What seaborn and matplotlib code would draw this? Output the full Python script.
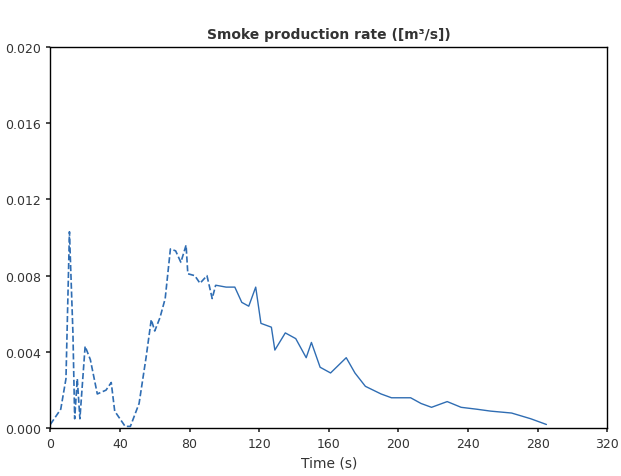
import matplotlib
matplotlib.use("Agg")
import matplotlib.pyplot as plt
import seaborn as sns
import pandas as pd

sns.set_theme(style="white")
plt.rcParams['font.family'] = ['DejaVu Sans']

t_dash = [0, 6, 9, 11, 13, 14, 15.5, 17, 20, 23, 27, 32, 35, 37, 43, 46, 51, 55, 58, 60, 63, 66, 69, 72, 75, 78, 79, 83, 86, 90, 93, 95]
v_dash = [0.0002, 0.0010, 0.0026, 0.0103, 0.0050, 0.0005, 0.0026, 0.0005, 0.0043, 0.0036, 0.0018, 0.0020, 0.0024, 0.0009, 0.0001, 0.0001, 0.0013, 0.0037, 0.0057, 0.0051, 0.0058, 0.0068, 0.0094, 0.0093, 0.0087, 0.0096, 0.0081, 0.0080, 0.0076, 0.0080, 0.0068, 0.0075]
t_solid = [95, 101, 106, 110, 114, 118, 121, 127, 129, 135, 141, 147, 150, 155, 161, 170, 175, 181, 190, 196, 207, 213, 219, 228, 236, 245, 253, 265, 276, 285]
v_solid = [0.0075, 0.0074, 0.0074, 0.0066, 0.0064, 0.0074, 0.0055, 0.0053, 0.0041, 0.0050, 0.0047, 0.0037, 0.0045, 0.0032, 0.0029, 0.0037, 0.0029, 0.0022, 0.0018, 0.0016, 0.0016, 0.0013, 0.0011, 0.0014, 0.0011, 0.0010, 0.0009, 0.0008, 0.0005, 0.0002]

x_ticks = [0, 40, 80, 120, 160, 200, 240, 280, 320]
y_ticks = [0.000, 0.004, 0.008, 0.012, 0.016, 0.020]

fig = plt.figure(figsize=(6.21, 4.77), dpi=100)
ax = fig.add_axes([0.081, 0.10, 0.897, 0.80])
color = "#2f6db3"
sns.lineplot(data=pd.DataFrame({"t": t_dash, "v": v_dash}), x="t", y="v", ax=ax,
             color=color, linestyle="--", linewidth=1.2)
sns.lineplot(data=pd.DataFrame({"t": t_solid, "v": v_solid}), x="t", y="v", ax=ax,
             color=color, linewidth=1.0)
ax.set_xlim(0, 320)
ax.set_ylim(0, 0.020)
ax.set_xticks(x_ticks)
ax.set_yticks(y_ticks)
ax.set_yticklabels([f"{v:.3f}" for v in y_ticks])
ax.tick_params(labelsize=9, colors="#333333", length=3, direction="out", left=True, bottom=True)
ax.set_xlabel("Time (s)", fontsize=10, color="#333333")
ax.set_ylabel("")
ax.set_title("Smoke production rate ([m³/s])", fontsize=10, fontweight="bold", color="#333333")
for s in ax.spines.values():
    s.set_color("black")
    s.set_linewidth(1.0)
fig.savefig("out.png", dpi=100)
